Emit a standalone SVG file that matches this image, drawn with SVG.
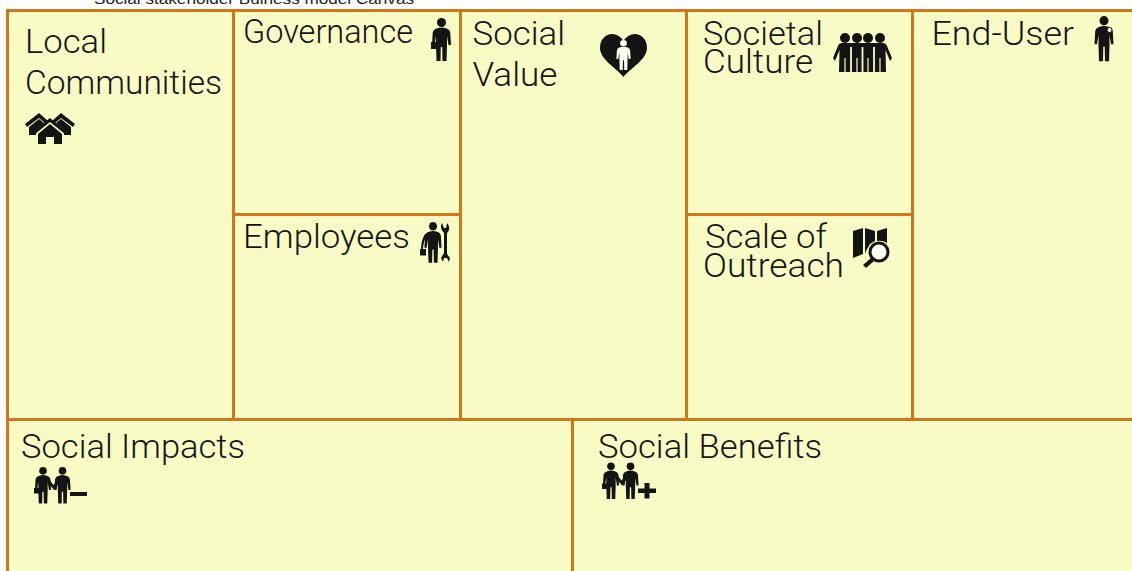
<svg xmlns="http://www.w3.org/2000/svg" width="1132" height="571" viewBox="0 0 1132 571">
<style>
.c{fill:#f9fbc5;stroke:#d2761c;stroke-width:3}
.t{font-family:Roboto,"Liberation Sans",sans-serif;font-weight:300;font-size:34px;fill:#151515}
.s{font-family:"Liberation Sans",Arial,sans-serif;font-size:15px;fill:#222}
.i{fill:#141414}
.w{fill:#fdfdf0}
.g{stroke:#f9fbc5;fill:none}
</style>
<defs>
<g id="man">
<circle cx="10" cy="4.500" r="4.500"/>
<path d="M5 10.500Q10 8.500 15 10.500Q18.500 11.500 18.800 15L19.500 27H17L15.500 18V28L15 43H11L10.700 29H9.300L9 43H5L4.500 28V18L3 27H.5L1.200 15Q1.500 11.500 5 10.500Z"/>
</g>
<g id="pair">
<use href="#man" transform="scale(.85)"/>
<use href="#man" transform="translate(19.500) scale(.85)"/>
<path d="M13.500 11L19 18L25 11L26.500 13L19.500 23L13 15Z"/>
<rect x="-.500" y="21" width="5.500" height="5.500"/>
</g>
</defs>
<rect width="1132" height="571" fill="#fff"/>
<text class="s" x="94" y="4" textLength="320" lengthAdjust="spacingAndGlyphs">Social stakeholder Buiness model Canvas</text>

<g id="local-communities">
<rect class="c" x="7.500" y="10.500" width="226" height="409"/>
<text class="t" x="25" y="53" textLength="82" lengthAdjust="spacingAndGlyphs">Local</text>
<text class="t" x="25" y="94" textLength="197" lengthAdjust="spacingAndGlyphs">Communities</text>
<g class="i">
<path d="M25 124L39 113L48 121L45 123L39 118L27 127Z"/>
<path d="M29 127L39 119L44 123L36 130V135H29Z"/>
<path d="M75 124L61 113L52 121L55 123L61 118L73 127Z"/>
<path d="M71 127L61 119L56 123L64 130V135H71Z"/>
<path d="M33 132L50 118L67 132L65 134L50 122L35 134Z"/>
<path d="M38 134L50 124L62 134V144H54V137H46V144H38Z"/>
</g>
</g>

<g id="governance">
<rect class="c" x="233.500" y="10.500" width="227" height="204"/>
<text class="t" x="243" y="43" textLength="170" lengthAdjust="spacingAndGlyphs">Governance</text>
<g class="i">
<use href="#man" transform="translate(431.500 18)"/>
<rect x="431" y="42" width="7" height="7"/>
</g>
</g>

<g id="employees">
<rect class="c" x="233.500" y="214.500" width="227" height="205"/>
<text class="t" x="243" y="248" textLength="167" lengthAdjust="spacingAndGlyphs">Employees</text>
<g class="i">
<use href="#man" transform="translate(424 222) scale(.9 .95)"/>
<rect x="420" y="249" width="6" height="6.500"/>
<path d="M421 250Q421 240 425 234L427 235Q423 242 423 250Z"/>
<path d="M442 223L444 228H446L447 223Q451 227 448 232L447 233V254L450 258L449 262L447 258H444L443 262L441 258L444 253V233Q439 228 442 223Z"/>
</g>
</g>

<g id="social-value">
<rect class="c" x="460.500" y="10.500" width="226" height="409"/>
<text class="t" x="472.500" y="45" textLength="92.500" lengthAdjust="spacingAndGlyphs">Social</text>
<text class="t" x="472.500" y="85.500" textLength="85" lengthAdjust="spacingAndGlyphs">Value</text>
<path class="i" d="M623.500 77C618 69 600 60 600 48C600 39 606 34 612 34C617 34 621 37 623.500 41C626 37 630 34 635 34C641 34 647 39 647 48C647 60 629 69 623.500 77Z"/>
<g class="w"><use href="#man" transform="translate(616 40) scale(.75 .7)"/></g>
</g>

<g id="societal-culture">
<rect class="c" x="686.500" y="10.500" width="226" height="204"/>
<text class="t" x="703" y="45" textLength="120" lengthAdjust="spacingAndGlyphs">Societal</text>
<text class="t" x="703" y="73" textLength="110" lengthAdjust="spacingAndGlyphs">Culture</text>
<g class="i">
<circle cx="845" cy="38" r="5"/><circle cx="857" cy="38" r="5"/><circle cx="868" cy="38" r="5"/><circle cx="880" cy="38" r="5"/>
<path d="M842 43H883Q886 43 887 46L892 58L890 61L885.500 50L886 72H839L839.500 50L835 61L833 58L838 46Q839 43 842 43Z"/>
<path class="g" stroke-width="1.800" d="M851 47V72M862.500 47V72M874 47V72"/>
<path class="g" stroke-width="1.200" d="M845 58V72M857 58V72M868 58V72M880 58V72"/>
</g>
</g>

<g id="scale-of-outreach">
<rect class="c" x="686.500" y="214.500" width="226" height="205"/>
<text class="t" x="705" y="248" textLength="122" lengthAdjust="spacingAndGlyphs">Scale of</text>
<text class="t" x="703" y="277" textLength="141" lengthAdjust="spacingAndGlyphs">Outreach</text>
<g class="i">
<path d="M853 231L863 228V254L853 258ZM865 228L875 231V241L870 244L866 251L865 254ZM877 231L887 228V243Q882 240 877 241Z"/>
<circle cx="879" cy="252" r="9" fill="#fdfdf0" stroke="#141414" stroke-width="3"/>
<path d="M871 258L863 265L866 268L874 261Z"/>
</g>
</g>

<g id="end-user">
<rect class="c" x="912.500" y="10.500" width="222" height="409"/>
<text class="t" x="931.500" y="45" textLength="142.500" lengthAdjust="spacingAndGlyphs">End-User</text>
<g class="i">
<use href="#man" transform="translate(1094 16) scale(1 1.05)"/>
<circle cx="1109.500" cy="30" r="2.500" fill="#fdfdf0" stroke="#141414"/>
</g>
</g>

<g id="social-impacts">
<rect class="c" x="7.500" y="419.500" width="565" height="154"/>
<text class="t" x="21" y="458" textLength="224" lengthAdjust="spacingAndGlyphs">Social Impacts</text>
<g class="i">
<use href="#pair" transform="translate(34.500 467)"/>
<rect x="70" y="492" width="17" height="4"/>
</g>
</g>

<g id="social-benefits">
<rect class="c" x="572.500" y="419.500" width="562" height="154"/>
<text class="t" x="598" y="458" textLength="224" lengthAdjust="spacingAndGlyphs">Social Benefits</text>
<g class="i">
<use href="#pair" transform="translate(602.500 462.500)"/>
<path d="M638 488.500H644.500V483H649.500V488.500H656V493H649.500V498.500H644.500V493H638Z"/>
</g>
</g>
</svg>
